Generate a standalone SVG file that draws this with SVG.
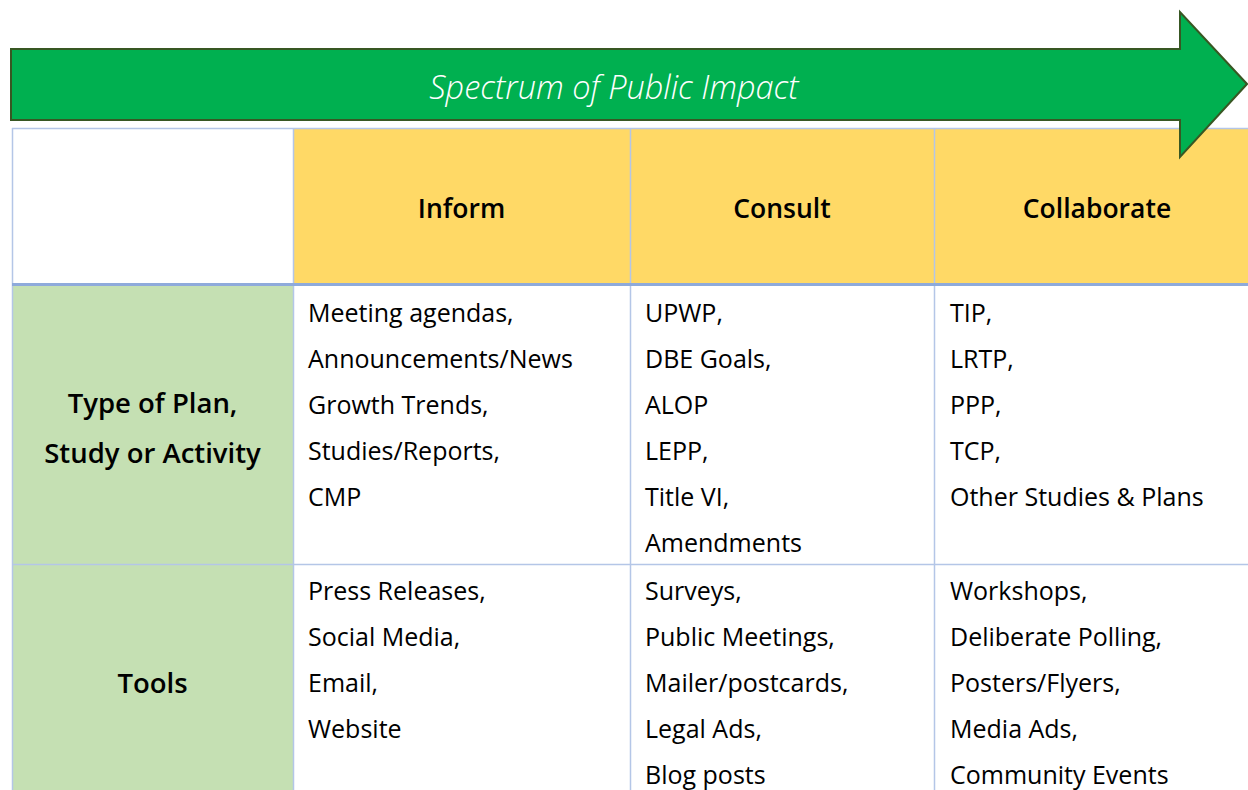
<svg xmlns="http://www.w3.org/2000/svg" width="1248" height="790" viewBox="0 0 1248 790">
<style>
.t{font-family:"Open Sans","Noto Sans","Liberation Sans",sans-serif;font-size:25px;fill:#000}
.h{font-family:"Open Sans","Noto Sans","Liberation Sans",sans-serif;font-size:26.5px;font-weight:600;fill:#000;text-anchor:middle}
.r{font-size:27.5px}
.vl{stroke:#B4C6E7;stroke-width:1.5;fill:none}
</style>
<rect width="1248" height="790" fill="#fff"/>
<g id="table">
<rect x="293" y="128" width="967" height="156" fill="#FFD966"/>
<rect x="12" y="285" width="281" height="520" fill="#C5E0B3"/>
<line class="vl" x1="12" y1="128.5" x2="1260" y2="128.5"/>
<line class="vl" x1="12.5" y1="128" x2="12.5" y2="790"/>
<line class="vl" x1="293.5" y1="128" x2="293.5" y2="790"/>
<line class="vl" x1="630.5" y1="128" x2="630.5" y2="790"/>
<line class="vl" x1="934.5" y1="128" x2="934.5" y2="790"/>
<line class="vl" x1="12" y1="564.5" x2="1260" y2="564.5"/>
<line x1="12" y1="284.5" x2="1260" y2="284.5" stroke="#8EAADB" stroke-width="3"/>
</g>
<g id="header">
<text class="h" x="461.5" y="218">Inform</text>
<text class="h" x="782" y="218">Consult</text>
<text class="h" x="1097" y="218">Collaborate</text>
</g>
<g id="row-labels">
<text class="h r" x="152.5" y="413">Type of Plan,</text>
<text class="h r" x="152.5" y="463">Study or Activity</text>
<text class="h r" x="152.5" y="693">Tools</text>
</g>
<g id="plans">
<text class="t" x="308" y="322">Meeting agendas,</text>
<text class="t" x="308" y="368">Announcements/News</text>
<text class="t" x="308" y="414">Growth Trends,</text>
<text class="t" x="308" y="460">Studies/Reports,</text>
<text class="t" x="308" y="506">CMP</text>
<text class="t" x="645" y="322">UPWP,</text>
<text class="t" x="645" y="368">DBE Goals,</text>
<text class="t" x="645" y="414">ALOP</text>
<text class="t" x="645" y="460">LEPP,</text>
<text class="t" x="645" y="506">Title VI,</text>
<text class="t" x="645" y="552">Amendments</text>
<text class="t" x="950" y="322">TIP,</text>
<text class="t" x="950" y="368">LRTP,</text>
<text class="t" x="950" y="414">PPP,</text>
<text class="t" x="950" y="460">TCP,</text>
<text class="t" x="950" y="506">Other Studies &amp; Plans</text>
</g>
<g id="tools">
<text class="t" x="308" y="600">Press Releases,</text>
<text class="t" x="308" y="646">Social Media,</text>
<text class="t" x="308" y="692">Email,</text>
<text class="t" x="308" y="738">Website</text>
<text class="t" x="645" y="600">Surveys,</text>
<text class="t" x="645" y="646">Public Meetings,</text>
<text class="t" x="645" y="692">Mailer/postcards,</text>
<text class="t" x="645" y="738">Legal Ads,</text>
<text class="t" x="645" y="784">Blog posts</text>
<text class="t" x="950" y="600">Workshops,</text>
<text class="t" x="950" y="646">Deliberate Polling,</text>
<text class="t" x="950" y="692">Posters/Flyers,</text>
<text class="t" x="950" y="738">Media Ads,</text>
<text class="t" x="950" y="784">Community Events</text>
</g>
<g id="arrow">
<path d="M11,49 L1180,49 L1180,12 L1247,84 L1180,157 L1180,120 L11,120 Z" fill="#00B050" stroke="#385723" stroke-width="2" stroke-linejoin="miter"/>
<text x="614" y="99" text-anchor="middle" font-family="'Open Sans','Noto Sans',sans-serif" font-size="32.5" font-style="italic" font-weight="300" fill="#fff">Spectrum of Public Impact</text>
</g>
</svg>
